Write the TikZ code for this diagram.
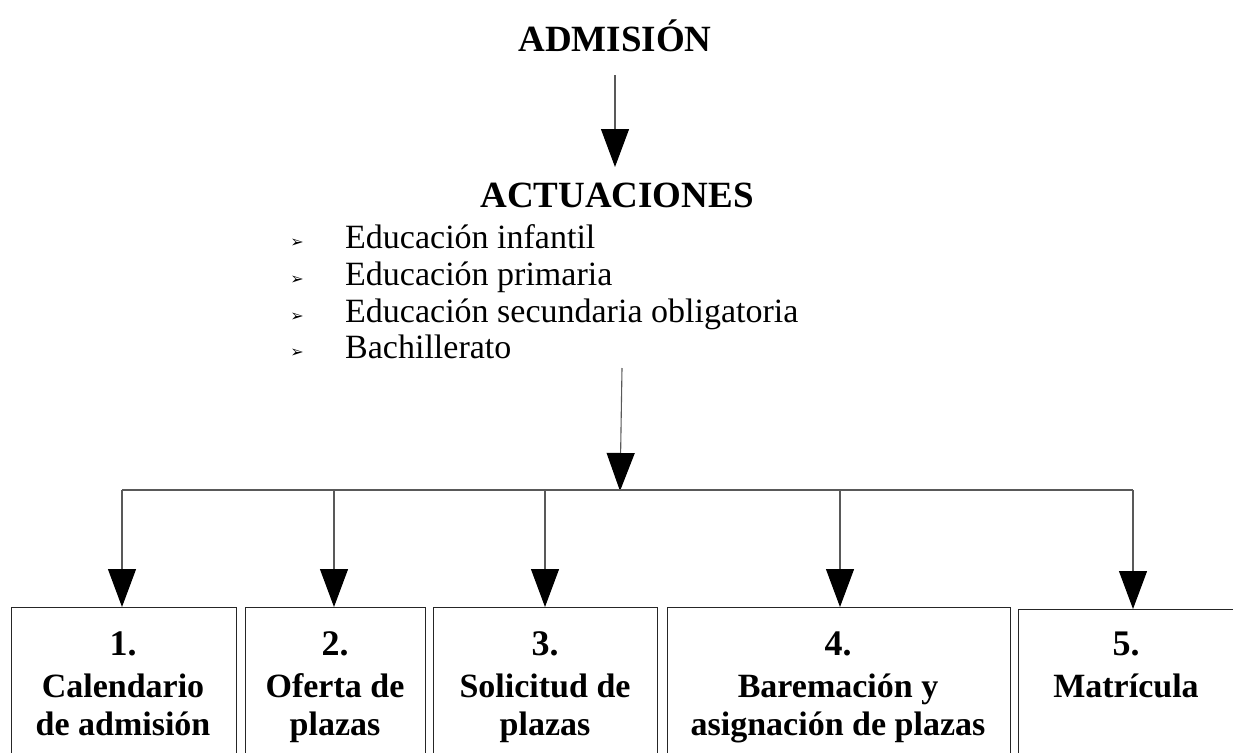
\documentclass[tikz,border=0pt]{standalone}
\usepackage{fontspec}
\setmainfont{Liberation Serif}
\newfontfamily\dejavu{DejaVu Sans}
\usetikzlibrary{arrows.meta}
\begin{document}
\begin{tikzpicture}[x=1pt,y=-1pt,
  conn/.style={draw=black!65, line width=1.1pt, -{Triangle[width=28pt,length=38pt,color=black]}},
  plain/.style={draw=black!65, line width=1.1pt},
  box/.style={draw=black!85, line width=1.4pt, inner sep=0pt, anchor=north west},
  title/.style={font=\bfseries\fontsize{37}{40}\selectfont, anchor=base, inner sep=0pt},
  item/.style={font=\fontsize{34}{37}\selectfont, anchor=base west, inner sep=0pt},
  bul/.style={font=\dejavu\fontsize{16}{16}\selectfont, anchor=center, inner sep=0pt},
  num/.style={font=\bfseries\fontsize{36}{36}\selectfont, anchor=base, inner sep=0pt},
  btxt/.style={font=\bfseries\fontsize{34}{38}\selectfont, anchor=base, inner sep=0pt, align=center}
]
\useasboundingbox (0,0) rectangle (1233,752);
% titles
\node[title] (adm) at (615,52) {ADMISIÓN};
\node[title] (act) at (617,207) {ACTUACIONES};
% list
\node[item] (l1) at (345,248) {Educación infantil};
\node[item] (l2) at (345,285) {Educación primaria};
\node[item] (l3) at (345,322) {Educación secundaria obligatoria};
\node[item] (l4) at (345,358) {Bachillerato};
\node[bul] (p1) at (297,243) {➢};
\node[bul] (p2) at (297,280) {➢};
\node[bul] (p3) at (297,317) {➢};
\node[bul] (p4) at (297,353) {➢};
% connector points
\coordinate (admout) at (615,75);
\coordinate (actin) at (615,167);
\coordinate (listout) at (622,368);
\coordinate (hub) at (620,491);
\coordinate (hl) at (122,490);
\coordinate (hr) at (1133,490);
% boxes
\node[box, minimum width=225pt, minimum height=170pt] (b1) at (11,607) {};
\node[box, minimum width=180pt, minimum height=170pt] (b2) at (245,607) {};
\node[box, minimum width=224pt, minimum height=170pt] (b3) at (433,607) {};
\node[box, minimum width=343pt, minimum height=170pt] (b4) at (667,607) {};
\node[box, minimum width=230pt, minimum height=170pt] (b5) at (1018,609) {};
% box texts
\node[num] (n1) at (123,655) {1.};
\node[btxt] (t1) at (123,735) {Calendario\\de admisión};
\node[num] (n2) at (335,655) {2.};
\node[btxt] (t2) at (335,735) {Oferta de\\plazas};
\node[num] (n3) at (545,655) {3.};
\node[btxt] (t3) at (545,735) {Solicitud de\\plazas};
\node[num] (n4) at (838,655) {4.};
\node[btxt] (t4) at (838,735) {Baremación y\\asignación de plazas};
\node[num] (n5) at (1126,655) {5.};
\node[btxt] (t5) at (1126,697) {Matrícula};
% connectors
\draw[conn] (admout) -- (actin);
\draw[conn] (listout) -- (hub);
\draw[plain] (hl) -- (hr);
\draw[conn] (hl) -- (hl |- b1.north);
\draw[conn] (334,490) -- (334,607);
\draw[conn] (545,490) -- (545,607);
\draw[conn] (840,490) -- (840,607);
\draw[conn] (hr) -- (hr |- b5.north);
\end{tikzpicture}
\end{document}
